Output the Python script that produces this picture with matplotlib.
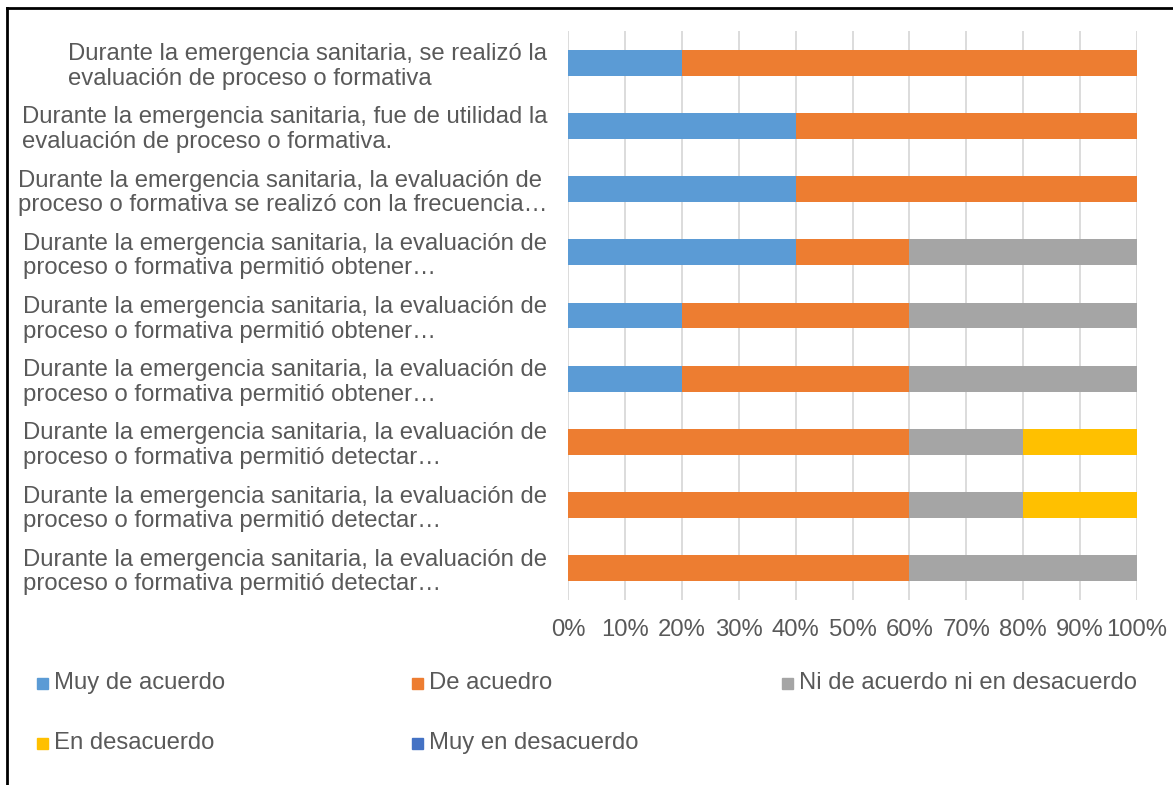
import matplotlib.pyplot as plt
from matplotlib.lines import Line2D
from matplotlib.patches import Rectangle

plt.rcParams['font.family'] = ['Liberation Sans', 'DejaVu Sans']

# Categories (top to bottom)
labels = [
    "Durante la emergencia sanitaria, se realizó la\nevaluación de proceso o formativa",
    "Durante la emergencia sanitaria, fue de utilidad la\nevaluación de proceso o formativa.",
    "Durante la emergencia sanitaria, la evaluación de\nproceso o formativa se realizó con la frecuencia…",
    "Durante la emergencia sanitaria, la evaluación de\nproceso o formativa permitió obtener…",
    "Durante la emergencia sanitaria, la evaluación de\nproceso o formativa permitió obtener…",
    "Durante la emergencia sanitaria, la evaluación de\nproceso o formativa permitió obtener…",
    "Durante la emergencia sanitaria, la evaluación de\nproceso o formativa permitió detectar…",
    "Durante la emergencia sanitaria, la evaluación de\nproceso o formativa permitió detectar…",
    "Durante la emergencia sanitaria, la evaluación de\nproceso o formativa permitió detectar…",
]

# Series values (percent)
muy_de_acuerdo = [20, 40, 40, 40, 20, 20, 0, 0, 0]
de_acuerdo = [80, 60, 60, 20, 40, 40, 60, 60, 60]
ni_ni = [0, 0, 0, 40, 40, 40, 20, 20, 40]
en_desacuerdo = [0, 0, 0, 0, 0, 0, 20, 20, 0]
muy_en_desacuerdo = [0, 0, 0, 0, 0, 0, 0, 0, 0]

series_names = ["Muy de acuerdo", "De acuedro", "Ni de acuerdo ni en desacuerdo",
                "En desacuerdo", "Muy en desacuerdo"]
series = [muy_de_acuerdo, de_acuerdo, ni_ni, en_desacuerdo, muy_en_desacuerdo]
colors = ["#5B9BD5", "#ED7D31", "#A5A5A5", "#FFC000", "#4472C4"]

tick_vals = list(range(0, 101, 10))
tick_labels = [str(v) + "%" for v in tick_vals]

text_color = "#595959"
fs = 17.2

fig = plt.figure(figsize=(11.73, 7.85), dpi=100)
ax = fig.add_axes([568 / 1173, 1 - 600 / 785, 569 / 1173, 569 / 785])

ypos = list(range(len(labels)))
left = [0] * len(labels)
for name, vals, c in zip(series_names, series, colors):
    ax.barh(ypos, vals, left=left, height=0.41, color=c, label=name, zorder=3)
    left = [l + v for l, v in zip(left, vals)]

ax.set_xlim(0, 100)
ax.set_ylim(len(labels) - 0.5, -0.5)
ax.set_xticks(tick_vals)
ax.set_xticklabels(tick_labels, fontsize=fs, color=text_color)
ax.set_yticks(ypos)
ax.set_yticklabels(labels, fontsize=fs, color=text_color, multialignment='left',
                   linespacing=1.15)
ax.tick_params(axis='x', length=0, pad=14)
ax.tick_params(axis='y', length=0, pad=15)
ax.grid(axis='x', color='#D9D9D9', linewidth=1.3, zorder=0)
for s in ax.spines.values():
    s.set_visible(False)

# Legend, laid out like the Excel one
col_x = [37, 412, 782]
row_y = [683, 743]
for i, (name, c) in enumerate(zip(series_names, colors)):
    x = col_x[i % 3]
    y = row_y[i // 3]
    fig.add_artist(Rectangle((x / 1173, (785 - y - 5.5) / 785), 11 / 1173, 11 / 785,
                             transform=fig.transFigure, color=c))
    fig.text((x + 17) / 1173, (785 - y) / 785, name, fontsize=fs,
             color=text_color, va='center', ha='left')

# outer frame (only top and left visible in the crop)
fig.add_artist(Line2D([7 / 1173, 1], [1 - 8 / 785, 1 - 8 / 785], color='black', linewidth=2,
                      transform=fig.transFigure))
fig.add_artist(Line2D([7 / 1173, 7 / 1173], [0, 1 - 8 / 785], color='black', linewidth=2,
                      transform=fig.transFigure))

plt.savefig("out.png", dpi=100)
